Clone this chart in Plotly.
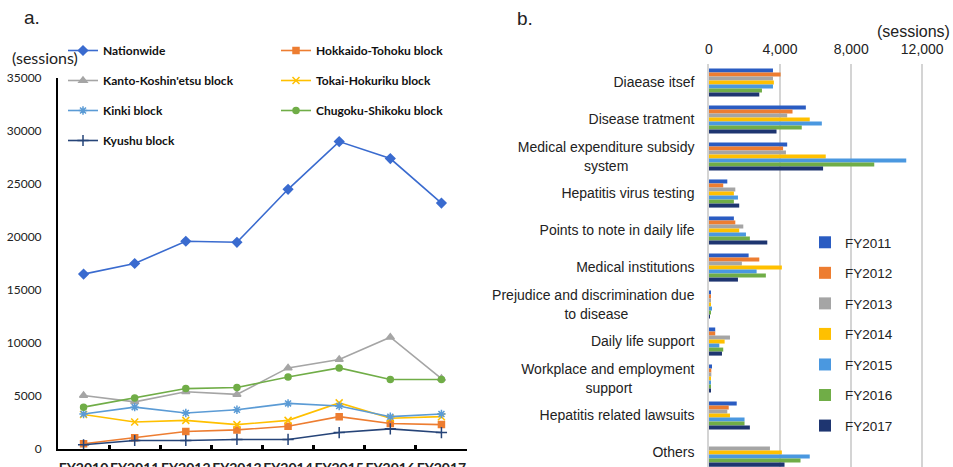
import plotly.graph_objects as go

W, H = 953, 467

# ---- panel a: consultation sessions by block ----
fiscal_years = ["FY2010", "FY2011", "FY2012", "FY2013", "FY2014", "FY2015", "FY2016", "FY2017"]
nationwide = [16500, 17500, 19600, 19500, 24500, 29000, 27400, 23200]
hokkaido_tohoku = [500, 1050, 1650, 1800, 2150, 3050, 2400, 2300]
kanto_koshinetsu = [5050, 4450, 5400, 5150, 7650, 8450, 10550, 6650]
tokai_hokuriku = [3250, 2550, 2700, 2300, 2700, 4350, 2900, 3050]
kinki = [3300, 3950, 3400, 3700, 4300, 4050, 3050, 3300]
chugoku_shikoku = [3950, 4800, 5700, 5800, 6800, 7650, 6550, 6550]
kyushu = [400, 800, 800, 900, 900, 1550, 1900, 1550]

# ---- panel b: sessions by consultation topic ----
topics = [
    "Diaease itsef", "Disease tratment", "Medical expenditure subsidy system",
    "Hepatitis virus testing", "Points to note in daily life", "Medical institutions",
    "Prejudice and discrimination due to disease", "Daily life support",
    "Workplace and employment support", "Hepatitis related lawsuits", "Others",
]
topic_labels = [
    "Diaease itsef", "Disease tratment",
    "Medical expenditure subsidy<br>system" + "\u00a0" * 17,
    "Hepatitis virus testing", "Points to note in daily life", "Medical institutions",
    "Prejudice and discrimination due<br>to disease" + "\u00a0" * 17,
    "Daily life support",
    "Workplace and employment<br>support" + "\u00a0" * 16,
    "Hepatitis related lawsuits", "Others",
]
bar_years = ["FY2011", "FY2012", "FY2013", "FY2014", "FY2015", "FY2016", "FY2017"]
fy2011 = [3600, 5450, 4400, 1030, 1400, 2230, 100, 350, 170, 1560, None]
fy2012 = [4030, 4700, 4170, 800, 1480, 2830, 100, 350, 130, 1110, None]
fy2013 = [3600, 4400, 4330, 1480, 1930, 1850, 60, 1180, 130, 1030, 3430]
fy2014 = [3650, 5670, 6570, 1400, 1700, 4100, 60, 880, 60, 1180, 4100]
fy2015 = [3600, 6350, 11100, 1630, 2080, 2680, 170, 580, 100, 2000, 5670]
fy2016 = [2980, 5220, 9300, 1400, 2300, 3200, 90, 800, 100, 2000, 5150]
fy2017 = [2830, 3800, 6420, 1700, 3280, 1630, 20, 730, 100, 2300, 4250]
bar_values = [fy2011, fy2012, fy2013, fy2014, fy2015, fy2016, fy2017]
bar_colors = ["#2A5CC2", "#ED7D31", "#A5A5A5", "#FFC000", "#4A98E0", "#70AD47", "#1E3570"]


def px_x(x):
    return x / W


def px_y(y):
    return 1 - y / H


fig = go.Figure()

blocks = [
    ("Nationwide", nationwide, "#3A6BCF", "diamond", 7, "legend"),
    ("Hokkaido-Tohoku block", hokkaido_tohoku, "#ED7D31", "square", 6, "legend3"),
    ("Kanto-Koshin'etsu block", kanto_koshinetsu, "#A5A5A5", "triangle-up", 7, "legend"),
    ("Tokai-Hokuriku block", tokai_hokuriku, "#FFC000", "x-thin-open", 7, "legend3"),
    ("Kinki block", kinki, "#5B9BD5", "asterisk-open", 7, "legend"),
    ("Chugoku-Shikoku block", chugoku_shikoku, "#70AD47", "circle", 6, "legend3"),
    ("Kyushu block", kyushu, "#264478", "cross-thin-open", 8, "legend"),
]
for i, (name, vals, color, sym, size, leg) in enumerate(blocks):
    fig.add_trace(go.Scatter(
        x=fiscal_years, y=vals, name=name, mode="lines+markers",
        line=dict(color=color, width=1.6),
        marker=dict(symbol=sym, size=size, color=color,
                    line=dict(color=color, width=1.5)),
        xaxis="x", yaxis="y", legend=leg, legendgroup=f"g{i}",
    ))

for yr, vals, color in zip(bar_years, bar_values, bar_colors):
    fig.add_trace(go.Bar(
        x=vals, y=topics, name=yr, orientation="h",
        marker=dict(color=color, line=dict(width=0)),
        xaxis="x2", yaxis="y2", legend="legend2", legendgroup=yr,
    ))

left_font = "Lato, 'Liberation Sans', sans-serif"
right_font = "'Liberation Sans', Arial, sans-serif"

fig.update_layout(
    width=W, height=H,
    margin=dict(l=0, r=0, t=0, b=0, autoexpand=False),
    paper_bgcolor="white", plot_bgcolor="rgba(0,0,0,0)",
    barmode="group", bargap=0.24, bargroupgap=0,
    showlegend=True,
    xaxis=dict(
        domain=[px_x(58), px_x(467)], anchor="y", automargin=False,
        type="category", range=[-0.5, 7.5],
        showline=True, linecolor="black", linewidth=2,
        ticks="inside", ticklen=4, tickwidth=2.5, tickcolor="black",
        tickson="boundaries", showgrid=False, zeroline=False,
        tickangle=0,
        tickfont=dict(family=left_font, size=14, color="#222222", weight="bold"),
        ticklabelstandoff=5,
    ),
    yaxis=dict(
        domain=[px_y(449), px_y(78)], anchor="x", automargin=False,
        range=[0, 35000], dtick=5000,
        showline=True, linecolor="black", linewidth=2,
        ticks="", showgrid=False, zeroline=False,
        tickformat="d",
        tickfont=dict(family=left_font, size=12, color="#222222"),
        ticklabelstandoff=12,
    ),
    xaxis2=dict(
        domain=[px_x(709), px_x(940)], anchor="y2", side="top", automargin=False,
        range=[0, 13000], tickvals=[0, 4000, 8000, 12000],
        ticktext=["0", "4,000", "8,000", "12,000"],
        showgrid=True, gridcolor="#D4D4D4", gridwidth=1.5,
        zeroline=False, showline=False, ticks="",
        tickfont=dict(family=right_font, size=14, color="#222222"),
        ticklabelstandoff=6,
    ),
    yaxis2=dict(
        domain=[0, px_y(64)], anchor="x2", automargin=False,
        type="category", range=[10.39, -0.5],
        tickvals=topics, ticktext=topic_labels,
        showline=True, linecolor="#D4D4D4", linewidth=1.5,
        ticks="", showgrid=False, zeroline=False,
        tickfont=dict(family=right_font, size=14, color="#222222"),
        ticklabelstandoff=10,
    ),
    legend=dict(
        x=px_x(63), y=px_y(36), xanchor="left", yanchor="top",
        orientation="v", bgcolor="rgba(0,0,0,0)", tracegroupgap=11,
        font=dict(family=left_font, size=12, color="#111111", weight="bold"),
    ),
    legend3=dict(
        x=px_x(276), y=px_y(36), xanchor="left", yanchor="top",
        orientation="v", bgcolor="rgba(0,0,0,0)", tracegroupgap=11,
        font=dict(family=left_font, size=12, color="#111111", weight="bold"),
    ),
    legend2=dict(
        x=px_x(805), y=px_y(227), xanchor="left", yanchor="top",
        orientation="v", bgcolor="rgba(0,0,0,0)", tracegroupgap=10,
        font=dict(family=right_font, size=13.5, color="#222222"),
    ),
    annotations=[
        dict(text="a.", x=px_x(22), y=px_y(18), xref="paper", yref="paper",
             xanchor="left", yanchor="middle", showarrow=False,
             font=dict(family=right_font, size=19, color="#222222")),
        dict(text="b.", x=px_x(515), y=px_y(19), xref="paper", yref="paper",
             xanchor="left", yanchor="middle", showarrow=False,
             font=dict(family=right_font, size=19, color="#222222")),
        dict(text="(sessions)", x=px_x(10), y=px_y(57), xref="paper", yref="paper",
             xanchor="left", yanchor="middle", showarrow=False,
             font=dict(family=left_font, size=16, color="#222222")),
        dict(text="(sessions)", x=px_x(952), y=px_y(31), xref="paper", yref="paper",
             xanchor="right", yanchor="middle", showarrow=False,
             font=dict(family=right_font, size=16, color="#222222")),
    ],
)

fig.write_html("out.html")
